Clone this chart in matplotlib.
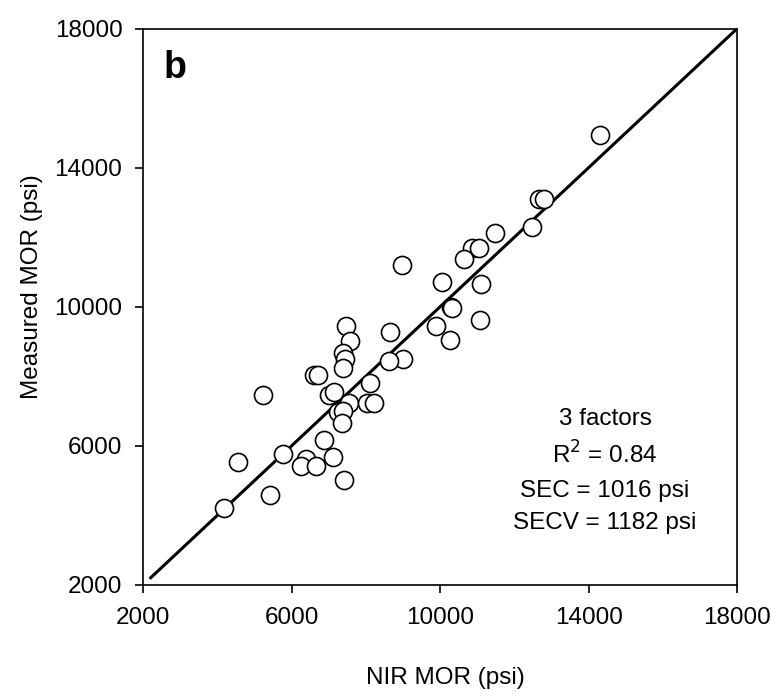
import matplotlib
matplotlib.use("Agg")
import matplotlib.pyplot as plt

plt.rcParams['font.family'] = ['Liberation Sans', 'DejaVu Sans']

nir_mor = [14300, 12670, 12800, 12480, 11490, 10850, 11050, 10640, 8970, 10050,
           11110, 10300, 10320, 11070, 9880, 10260, 8640, 9010, 8620, 7450,
           7570, 7390, 7445, 7390, 6600, 6700, 8105, 5230, 7010, 7150,
           7550, 8020, 8230, 7240, 7380, 7350, 6880, 5770, 4560, 6390,
           7120, 6245, 6650, 7400, 5410, 4180]
measured_mor = [14950, 13100, 13100, 12290, 12130, 11680, 11680, 11380, 11200, 10700,
                10650, 10000, 9960, 9620, 9440, 9040, 9280, 8490, 8430, 9440,
                9000, 8680, 8490, 8240, 8030, 8030, 7800, 7460, 7460, 7540,
                7230, 7230, 7230, 6975, 7010, 6650, 6150, 5760, 5520, 5620,
                5680, 5420, 5405, 5010, 4570, 4215]

line_x = [2200, 18000]
line_y = [2200, 18000]

ticks = [2000, 6000, 10000, 14000, 18000]
stats_lines = ["3 factors", "R$^2$ = 0.84", "SEC = 1016 psi", "SECV = 1182 psi"]
stats_y = [6596, 5494, 4532, 3594]

W, H = 784, 698
fig = plt.figure(figsize=(W / 100, H / 100), dpi=100)
left, right, top, bottom = 143.3, 737.0, 28.7, 584.7
ax = fig.add_axes([left / W, 1 - bottom / H, (right - left) / W, (bottom - top) / H])

ax.plot(line_x, line_y, color='black', lw=2.2, zorder=2)
ax.plot(nir_mor, measured_mor, linestyle='none', marker='o', ms=13,
        mfc='white', mec='black', mew=1.2, zorder=3)

ax.set_xlim(2000, 18000)
ax.set_ylim(2000, 18000)
ax.set_xticks(ticks)
ax.set_yticks(ticks)
ax.set_xticklabels([str(t) for t in ticks])
ax.set_yticklabels([str(t) for t in ticks])
ax.tick_params(direction='out', length=5.5, width=1.2, labelsize=17.5)
ax.tick_params(axis='x', pad=10.5)
ax.tick_params(axis='y', pad=9.5)
for s in ax.spines.values():
    s.set_linewidth(1.2)

fig.text(445 / W, 1 - 684.3 / H, "NIR MOR (psi)", fontsize=17.5,
         ha='center', va='baseline')
fig.text(38.3 / W, 1 - 286.3 / H, "Measured MOR (psi)", fontsize=17.5,
         rotation=90, rotation_mode='anchor', ha='center', va='baseline')

ax.text(2854, 16870, "b", fontsize=27, fontweight='bold', ha='center', va='center')

for t, yv in zip(stats_lines, stats_y):
    ax.text(14445, yv, t, fontsize=17.5, ha='center', va='baseline')

fig.savefig("out.png", dpi=100)
